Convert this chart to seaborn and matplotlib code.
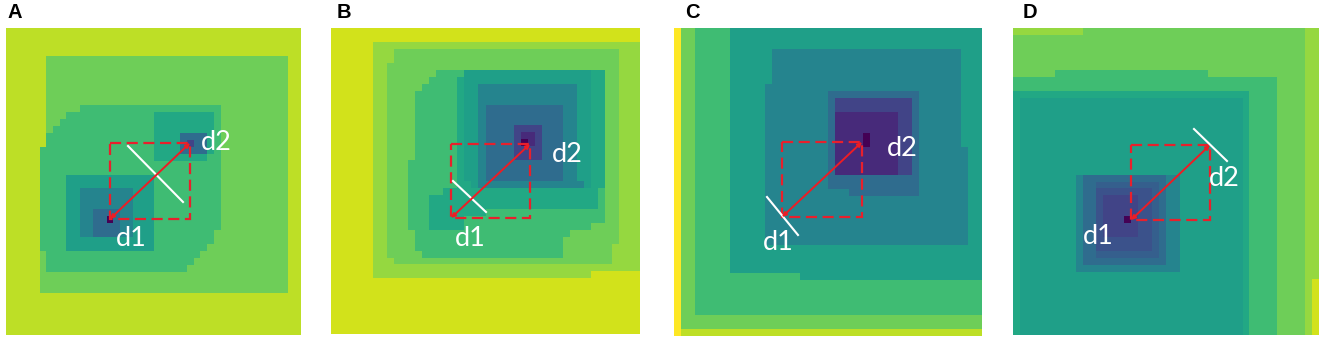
import pandas as pd
import matplotlib
matplotlib.use('Agg')
import matplotlib.pyplot as plt
import seaborn as sns
from matplotlib.patches import Rectangle

# contour level of each letter on the viridis scale
level_values = {'a': 0.0, 'b': 0.12, 'c': 0.2, 'p': 0.25, 'n': 0.3, 'd': 0.35, 'e': 0.45, 'f': 0.56,
                'g': 0.6, 'h': 0.69, 'i': 0.78, 'j': 0.84, 'k': 0.9, 'l': 0.93, 'm': 1.0}

# every panel is 44 rows of 44 cells, written as runs: k6 = six cells of level k
panel_a = [
    'k44', 'k44', 'k44', 'k44',
    'k6 i36 k2', 'k6 i36 k2', 'k6 i36 k2', 'k6 i36 k2', 'k6 i36 k2', 'k6 i36 k2', 'k6 i36 k2',
    'k6 i5 h21 i10 k2',
    'k6 i3 h13 g9 h1 i10 k2',
    'k6 i2 h14 g9 h1 i10 k2',
    'k6 i1 h15 g9 h1 i10 k2',
    'k6 h16 g4 d4 g1 h1 i10 k2',
    'k6 h16 g4 d1 c1 d2 g1 h1 i10 k2',
    'k5 h17 g4 d4 g1 h1 i10 k2',
    'k5 h17 g8 h2 i10 k2',
    'k5 h27 i10 k2', 'k5 h27 i10 k2',
    'k5 h4 f13 h10 i10 k2', 'k5 h4 f13 h10 i10 k2',
    'k5 h4 f2 e8 f3 h10 i10 k2', 'k5 h4 f2 e8 f3 h10 i10 k2', 'k5 h4 f2 e8 f3 h10 i10 k2',
    'k5 h4 f2 e2 d4 e2 f3 h10 i10 k2',
    'k5 h4 f2 e2 d2 a1 d1 e2 f3 h10 i10 k2',
    'k5 h4 f2 e2 d4 e2 f3 h10 i10 k2',
    'k5 h4 f2 e2 d4 e2 f3 h9 i11 k2',
    'k5 h4 f13 h9 i11 k2',
    'k5 h4 f13 h8 i12 k2',
    'k5 i1 h23 i13 k2',
    'k5 i1 h22 i14 k2',
    'k5 i1 h21 i15 k2',
    'k5 i37 k2', 'k5 i37 k2', 'k5 i37 k2',
    'k44', 'k44', 'k44', 'k44', 'k44', 'k44',
]

panel_b = [
    'l44', 'l44',
    'l6 j38',
    'l6 j3 i32 j3', 'l6 j3 i32 j3',
    'l6 j2 i33 j3',
    'l6 j2 i7 h4 f18 g2 i2 j3',
    'l6 j2 i6 h4 g1 f18 g2 i2 j3',
    'l6 j2 i5 h5 g1 f2 e14 f2 g2 i2 j3',
    'l6 j2 i4 h6 g1 f2 e14 f2 g2 i2 j3', 'l6 j2 i4 h6 g1 f2 e14 f2 g2 i2 j3',
    'l6 j2 i4 h6 g1 f2 e1 d11 e2 f2 g2 i2 j3', 'l6 j2 i4 h6 g1 f2 e1 d11 e2 f2 g2 i2 j3',
    'l6 j2 i4 h6 g1 f2 e1 d11 e2 f2 g2 i2 j3',
    'l6 j2 i4 h6 g1 f2 e1 d4 c4 d3 e2 f2 g2 i2 j3',
    'l6 j2 i4 h6 g1 f2 e1 d4 c1 b2 c1 d3 e2 f2 g2 i2 j3',
    'l6 j2 i4 h6 g1 f2 e1 d4 c1 a1 b1 c1 d3 e2 f2 g2 i2 j3',
    'l6 j2 i4 h6 g1 f2 e1 d4 c4 d3 e2 f2 g2 i2 j3',
    'l6 j2 i4 h6 g1 f2 e1 d4 c4 d3 e2 f2 g2 i2 j3',
    'l6 j2 i3 h7 g1 f2 e1 d11 e2 f2 g2 i2 j3', 'l6 j2 i3 h7 g1 f2 e1 d11 e2 f2 g2 i2 j3',
    'l6 j2 i3 h7 g1 f2 e1 d11 e2 f2 g2 i2 j3',
    'l6 j2 i3 h7 g2 f1 e15 f1 g2 i2 j3',
    'l6 j2 i3 h5 g22 h1 i2 j3',
    'l6 j2 i3 h3 g24 h1 i2 j3', 'l6 j2 i3 h3 g24 h1 i2 j3',
    'l6 j2 i3 h3 g8 h17 i2 j3',
    'l6 j2 i3 h3 g5 h20 i2 j3',
    'l6 j2 i3 h3 g5 h18 i4 j3',
    'l6 j2 i4 h22 i7 j3',
    'l6 j2 i4 h21 i8 j3',
    'l6 j2 i4 h21 i7 j4',
    'l6 j2 i5 h20 i7 j4',
    'l6 j3 i31 j4',
    'l6 j38',
    'l6 j31 l7',
    'l44', 'l44', 'l44', 'l44', 'l44', 'l44', 'l44', 'l44',
]

panel_c = [
    'm1 i2 h5 f36', 'm1 i2 h5 f36', 'm1 i2 h5 f36',
    'm1 i2 h5 f6 e27 f3', 'm1 i2 h5 f6 e27 f3', 'm1 i2 h5 f6 e27 f3', 'm1 i2 h5 f6 e27 f3', 'm1 i2 h5 f6 e27 f3',
    'm1 i2 h5 f5 e28 f3',
    'm1 i2 h5 f5 e9 d13 e6 f3',
    'm1 i2 h5 f5 e9 d1 c11 d1 e6 f3', 'm1 i2 h5 f5 e9 d1 c11 d1 e6 f3',
    'm1 i2 h5 f5 e9 d1 b9 c2 d1 e6 f3', 'm1 i2 h5 f5 e9 d1 b9 c2 d1 e6 f3', 'm1 i2 h5 f5 e9 d1 b9 c2 d1 e6 f3',
    'm1 i2 h5 f5 e9 d1 b4 a1 b4 c2 d1 e6 f3', 'm1 i2 h5 f5 e9 d1 b4 a1 b4 c2 d1 e6 f3',
    'm1 i2 h5 f5 e9 d1 b9 c2 d1 e7 f2', 'm1 i2 h5 f5 e9 d1 b9 c2 d1 e7 f2', 'm1 i2 h5 f5 e9 d1 b9 c2 d1 e7 f2',
    'm1 i2 h5 f5 e9 d1 b9 c2 d1 e7 f2',
    'm1 i2 h5 f5 e9 d13 e7 f2', 'm1 i2 h5 f5 e9 d13 e7 f2',
    'm1 i2 h5 f5 e12 d10 e7 f2',
    'm1 i2 h5 f5 e29 f2', 'm1 i2 h5 f5 e29 f2', 'm1 i2 h5 f5 e29 f2', 'm1 i2 h5 f5 e29 f2', 'm1 i2 h5 f5 e29 f2',
    'm1 i2 h5 f5 e29 f2', 'm1 i2 h5 f5 e29 f2',
    'm1 i2 h5 f36', 'm1 i2 h5 f36', 'm1 i2 h5 f36', 'm1 i2 h5 f36',
    'm1 i2 h15 f26',
    'm1 i2 h41', 'm1 i2 h41', 'm1 i2 h41', 'm1 i2 h41', 'm1 i2 h41',
    'm1 i43', 'm1 i43',
    'm1 k43',
]

panel_d = [
    'j10 i32 j2',
    'i42 j2', 'i42 j2', 'i42 j2', 'i42 j2', 'i42 j2',
    'i6 h22 i14 j2',
    'h38 i4 j2', 'h38 i4 j2',
    'g34 h4 i4 j2',
    'g1 f32 g1 h4 i4 j2', 'g1 f32 g1 h4 i4 j2', 'g1 f32 g1 h4 i4 j2', 'g1 f32 g1 h4 i4 j2', 'g1 f32 g1 h4 i4 j2',
    'g1 f32 g1 h4 i4 j2', 'g1 f32 g1 h4 i4 j2', 'g1 f32 g1 h4 i4 j2', 'g1 f32 g1 h4 i4 j2', 'g1 f32 g1 h4 i4 j2',
    'g1 f32 g1 h4 i4 j2',
    'g1 f8 e1 d12 e2 f9 g1 h4 i4 j2',
    'g1 f8 e1 d2 n9 d1 e2 f9 g1 h4 i4 j2',
    'g1 f8 e1 d2 p8 n1 d1 e2 f9 g1 h4 i4 j2',
    'g1 f8 e1 d2 p1 c5 p2 n1 d1 e2 f9 g1 h4 i4 j2', 'g1 f8 e1 d2 p1 c5 p2 n1 d1 e2 f9 g1 h4 i4 j2',
    'g1 f8 e1 d2 p1 c5 p2 n1 d1 e2 f9 g1 h4 i4 j2',
    'g1 f8 e1 d2 p1 c3 a1 c1 p2 n1 d1 e2 f9 g1 h4 i4 j2',
    'g1 f8 e1 d2 p1 c5 p2 n1 d1 e2 f9 g1 h4 i4 j2', 'g1 f8 e1 d2 p1 c5 p2 n1 d1 e2 f9 g1 h4 i4 j2',
    'g1 f8 e1 d2 p8 n1 d1 e2 f9 g1 h4 i4 j2', 'g1 f8 e1 d2 p8 n1 d1 e2 f9 g1 h4 i4 j2',
    'g1 f8 e1 d2 n9 d1 e2 f9 g1 h4 i4 j2',
    'g1 f8 e1 d12 e2 f9 g1 h4 i4 j2',
    'g1 f8 e15 f9 g1 h4 i4 j2',
    'g1 f32 g1 h4 i4 j2',
    'g1 f32 g1 h4 i4 j1 l1', 'g1 f32 g1 h4 i4 j1 l1', 'g1 f32 g1 h4 i4 j1 l1', 'g1 f32 g1 h4 i4 j1 l1',
    'g1 f32 g1 h4 i4 j1 l1', 'g1 f32 g1 h4 i4 j1 l1', 'g1 f32 g1 h4 i4 j1 l1', 'g1 f32 g1 h4 i4 j1 l1',
]

panel_names = ['A', 'B', 'C', 'D']
panel_rows = [panel_a, panel_b, panel_c, panel_d]

# layout, in pixels of the 1325x346 picture
heatmap_boxes = [(6, 28, 295, 307), (331, 28, 309, 306), (674, 28, 308, 308), (1013, 28, 306, 307)]
letter_x = [7, 337, 685, 1023]
dashed_boxes = [(110, 143, 80, 76), (451, 144, 79, 74), (782, 142, 80, 75), (1131, 145, 79, 75)]
white_lines = [((128, 146), (183, 202)), ((453, 181), (486, 212)), ((767, 197), (798, 235)), ((1194, 129), (1227, 161))]
d1_xy = [(131, 238), (470, 239), (778, 243), (1098, 237)]
d2_xy = [(216, 142), (567, 154), (902, 148), (1224, 179)]

W, H = 1325, 346


def expand(rows):
    table = []
    for row in rows:
        cells = []
        for run in row.split():
            cells += [level_values[run[0]]] * int(run[1:])
        assert len(cells) == 44, row
        table.append(cells)
    assert len(table) == 44
    return pd.DataFrame(table)


if __name__ == '__main__':
    fig = plt.figure(figsize=(W / 100, H / 100), dpi=100)

    for name, rows, (x0, y0, w, h) in zip(panel_names, panel_rows, heatmap_boxes):
        ax = fig.add_axes([x0 / W, 1 - (y0 + h) / H, w / W, h / H])
        sns.heatmap(expand(rows), ax=ax, cmap='viridis', vmin=0, vmax=1, cbar=False, xticklabels=False, yticklabels=False)

    # overlay for the hand drawn marks
    over = fig.add_axes([0, 0, 1, 1], facecolor='none')
    over.set_xlim(0, W)
    over.set_ylim(H, 0)
    over.axis('off')

    for i in range(4):
        over.text(letter_x[i], 12, panel_names[i], fontsize=14.5, fontweight='bold', family='Liberation Sans', va='center', ha='left', color='k')
        x, y, w, h = dashed_boxes[i]
        over.add_patch(Rectangle((x, y), w, h, fill=False, ec='#e8202c', lw=1.6, ls=(0, (5, 2.5))))
        over.plot(*zip(*white_lines[i]), color='white', lw=1.5)
        over.annotate('', xy=(x + w, y), xytext=(x, y + h), arrowprops=dict(arrowstyle='<|-|>', color='#ee1c24', lw=1.4, shrinkA=0, shrinkB=0, mutation_scale=6))
        over.text(*d1_xy[i], 'd1', color='white', fontsize=19.5, family='Lato', ha='center', va='center')
        over.text(*d2_xy[i], 'd2', color='white', fontsize=19.5, family='Lato', ha='center', va='center')

    plt.savefig('out.png', dpi=100)
